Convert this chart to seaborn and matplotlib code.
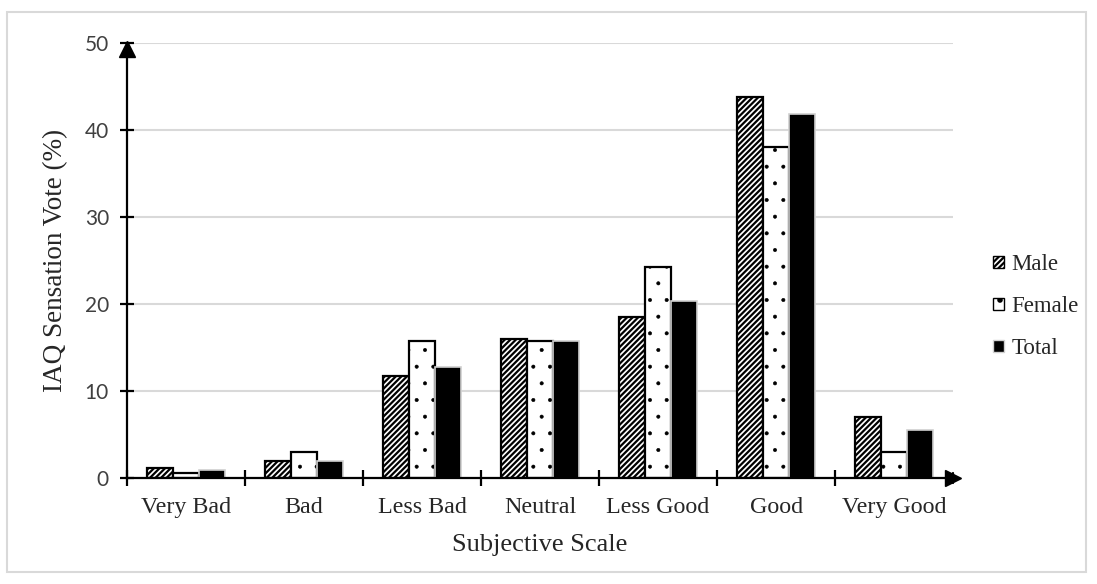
import matplotlib
matplotlib.use("Agg")
import matplotlib.pyplot as plt
import seaborn as sns
import pandas as pd
import numpy as np
from matplotlib.patches import Rectangle, Patch

categories = ["Very Bad", "Bad", "Less Bad", "Neutral", "Less Good", "Good", "Very Good"]
groups = ["Male", "Female", "Total"]
male = [1.2, 1.9, 11.7, 16.0, 18.5, 43.8, 7.0]
female = [0.6, 3.0, 15.7, 15.7, 24.3, 38.0, 3.0]
total = [0.9, 2.0, 12.7, 15.7, 20.3, 41.8, 5.5]
y_ticks = [0, 10, 20, 30, 40, 50]

df = pd.DataFrame({
    "Scale": categories * 3,
    "Group": ["Male"] * 7 + ["Female"] * 7 + ["Total"] * 7,
    "Vote": male + female + total,
})

sns.set_theme(style="white")
plt.rcParams["font.family"] = ["Liberation Serif", "DejaVu Serif"]
plt.rcParams["hatch.linewidth"] = 1.6

fig = plt.figure(figsize=(10.97, 5.84), dpi=100)
ax = fig.add_axes([0.1158, 0.1815, 0.753, 0.745])

sns.barplot(data=df, x="Scale", y="Vote", hue="Group", order=categories,
            hue_order=groups, palette=["white", "white", "black"],
            width=0.66, edgecolor="black", linewidth=1.6, legend=False, ax=ax,
            gap=0)

hatches = {"Male": "//////", "Female": ".", "Total": ""}
for cont, g in zip(ax.containers, groups):
    for p in cont:
        p.set_hatch(hatches[g])
        if g == "Total":
            p.set_facecolor("black")
            p.set_edgecolor("#d0d0d0")
            p.set_linewidth(1.2)
        else:
            p.set_facecolor("white")
            p.set_edgecolor("black")
        if g == "Female" and hasattr(p, "set_hatch_linewidth"):
            p.set_hatch_linewidth(0.4)

ax.set_xlim(-0.5, 6.5)
ax.set_ylim(0, 50)
ax.set_yticks(y_ticks)
ax.yaxis.grid(True, color="#d9d9d9", linewidth=1.5)
ax.set_axisbelow(True)
for s in ["top", "right"]:
    ax.spines[s].set_visible(False)
for s in ["left", "bottom"]:
    ax.spines[s].set_color("black")
    ax.spines[s].set_linewidth(1.6)

ax.tick_params(axis="y", left=True, direction="inout", length=10, width=1.6, color="black",
               labelsize=15, labelcolor="#404040", pad=8)
for lab in ax.get_yticklabels():
    lab.set_family(["Lato", "DejaVu Sans"])
ax.set_xticks(range(7))
ax.set_xticklabels(categories)
ax.tick_params(axis="x", which="major", bottom=False, length=0, labelsize=17.3, pad=14)
ax.set_xticks(np.arange(-0.5, 6.0, 1.0), minor=True)
ax.tick_params(axis="x", which="minor", bottom=True, direction="inout", length=11,
               width=1.6, color="black")

ax.set_xlabel("Subjective Scale", fontsize=19, labelpad=11)
ax.set_ylabel("IAQ Sensation Vote (%)", fontsize=19.5, labelpad=12)

# axis arrows
ax.plot([0], [0.985], marker="^", markersize=11, color="black", transform=ax.transAxes, clip_on=False)
ax.plot([1], [0], marker=">", markersize=11, color="black", transform=ax.transAxes, clip_on=False)
ax.plot([1.0, 1.0], [-0.012, 0.012], color="black", lw=1.6, transform=ax.transAxes, clip_on=False)

# legend
handles = [Patch(facecolor="white", edgecolor="black", hatch="//////", label="Male"),
           Patch(facecolor="white", edgecolor="black", hatch=".", label="Female"),
           Patch(facecolor="black", edgecolor="#d0d0d0", label="Total")]
leg = fig.legend(handles=handles, loc="center left", bbox_to_anchor=(0.8866, 0.475),
                 frameon=False, fontsize=16.5, handlelength=0.45, handleheight=0.45,
                 handletextpad=0.35, labelspacing=0.92)

# figure border
fig.patches.append(Rectangle((7 / 1097, 12 / 584), (1086 - 7) / 1097, (572 - 12) / 584,
                             transform=fig.transFigure, fill=False, edgecolor="#d9d9d9",
                             linewidth=1.5))

fig.savefig("out.png", dpi=100)
